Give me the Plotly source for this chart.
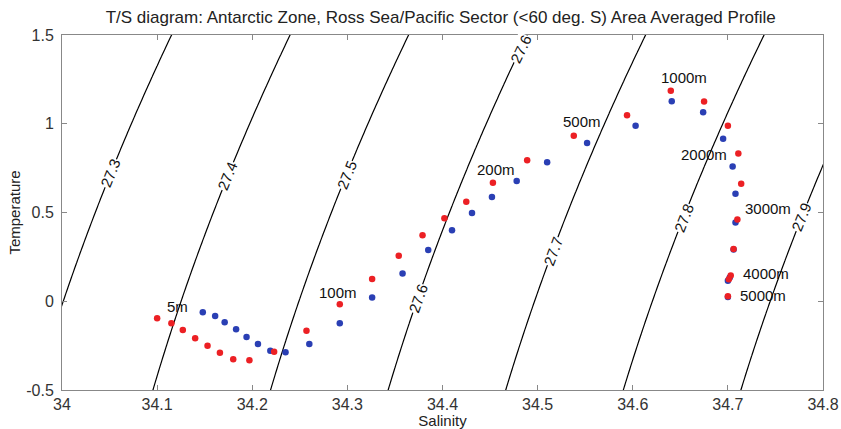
import math
import numpy as np
import plotly.graph_objects as go

# Profile 1 (red): salinity / potential temperature, surface to bottom
red_sal = [34.100, 34.115, 34.127, 34.140, 34.153, 34.166, 34.180, 34.197, 34.223, 34.257,
           34.292, 34.326, 34.354, 34.379, 34.402, 34.425, 34.453, 34.489, 34.538, 34.594,
           34.640, 34.675, 34.700, 34.711, 34.714, 34.710, 34.706, 34.703, 34.701, 34.700]
red_temp = [-0.096, -0.124, -0.162, -0.209, -0.250, -0.290, -0.327, -0.333, -0.284, -0.166,
            -0.017, 0.125, 0.257, 0.372, 0.467, 0.561, 0.668, 0.795, 0.932, 1.048,
            1.186, 1.126, 0.989, 0.832, 0.662, 0.461, 0.294, 0.145, 0.124, 0.028]

# Profile 2 (blue)
blue_sal = [34.148, 34.161, 34.171, 34.183, 34.194, 34.206, 34.219, 34.235, 34.260,
            34.292, 34.326, 34.358, 34.385, 34.410, 34.431, 34.452, 34.478, 34.510, 34.552,
            34.603, 34.641, 34.674, 34.695, 34.705, 34.708, 34.708, 34.706, 34.702, 34.700, 34.700]
blue_temp = [-0.062, -0.083, -0.119, -0.158, -0.201, -0.241, -0.279, -0.288, -0.241,
             -0.124, 0.021, 0.157, 0.289, 0.400, 0.497, 0.587, 0.677, 0.783, 0.892,
             0.989, 1.127, 1.065, 0.915, 0.759, 0.606, 0.444, 0.292, 0.134, 0.116, 0.024]

# Depth labels
depth_text = ["5m", "100m", "200m", "500m", "1000m", "2000m", "3000m", "4000m", "5000m"]
depth_sal = [34.121, 34.290, 34.456, 34.547, 34.654, 34.675, 34.742, 34.740, 34.737]
depth_temp = [-0.027, 0.052, 0.745, 1.015, 1.261, 0.824, 0.520, 0.154, 0.030]

# Isopycnal levels (sigma-0) and temperatures where their labels sit
sigma_levels = [27.3, 27.4, 27.5, 27.6, 27.6, 27.7, 27.8, 27.9]
sigma_label_temp = [0.723, 0.706, 0.711, 1.421, 0.018, 0.283, 0.469, 0.475]

S_RANGE = [34.0, 34.8]
T_RANGE = [-0.5, 1.5]
W, H = 841, 429
ML, MR, MT, MB = 62, 18, 35, 39
FONT = "Liberation Sans, Arial, sans-serif"


def sigma0(S, T):
    """UNESCO EOS-80 density anomaly at the sea surface."""
    rw = (999.842594 + 6.793952e-2 * T - 9.095290e-3 * T**2 + 1.001685e-4 * T**3
          - 1.120083e-6 * T**4 + 6.536332e-9 * T**5)
    A = 8.24493e-1 - 4.0899e-3 * T + 7.6438e-5 * T**2 - 8.2467e-7 * T**3 + 5.3875e-9 * T**4
    B = -5.72466e-3 + 1.0227e-4 * T - 1.6546e-6 * T**2
    C = 4.8314e-4
    return rw + A * S + B * S**1.5 + C * S**2 - 1000.0


def sal_on_isopycnal(level, T):
    lo, hi = 33.0, 36.0
    for _ in range(60):
        mid = 0.5 * (lo + hi)
        if sigma0(mid, T) < level:
            lo = mid
        else:
            hi = mid
    return 0.5 * (lo + hi)


sg = np.linspace(33.9, 34.9, 201)
tg = np.linspace(-0.7, 1.7, 121)
SS, TT = np.meshgrid(sg, tg)
dens = sigma0(SS, TT)

fig = go.Figure()
fig.add_trace(go.Contour(
    x=sg, y=tg, z=dens,
    contours=dict(start=27.3, end=27.9, size=0.1, coloring="lines", showlabels=False),
    colorscale=[[0, "black"], [1, "black"]],
    line=dict(width=1.2),
    showscale=False, hoverinfo="skip",
))
fig.add_trace(go.Scatter(x=blue_sal, y=blue_temp, mode="markers",
                         marker=dict(color="#2a3fb4", size=6.5), showlegend=False))
fig.add_trace(go.Scatter(x=red_sal, y=red_temp, mode="markers",
                         marker=dict(color="#ec2024", size=6.5), showlegend=False))

# pixel scale of the plot area
px_per_S = (W - ML - MR) / (S_RANGE[1] - S_RANGE[0])
px_per_T = (H - MT - MB) / (T_RANGE[1] - T_RANGE[0])

annotations = []
for lev, tl in zip(sigma_levels, sigma_label_temp):
    sl = sal_on_isopycnal(lev, tl)
    eps = 1e-3
    dS = (sigma0(sl + eps, tl) - sigma0(sl - eps, tl)) / (2 * eps)
    dT = (sigma0(sl, tl + eps) - sigma0(sl, tl - eps)) / (2 * eps)
    slope = -dT / dS  # dS/dT along the isopycnal
    ang = math.degrees(math.atan2(px_per_T, slope * px_per_S))
    annotations.append(dict(x=sl, y=tl, xref="x", yref="y", text=f"{lev:.1f}",
                            showarrow=False, textangle=-ang, bgcolor="white",
                            borderpad=0, font=dict(family=FONT, size=15, color="#111")))

for txt, s, t in zip(depth_text, depth_sal, depth_temp):
    annotations.append(dict(x=s, y=t, xref="x", yref="y", text=txt, showarrow=False,
                            font=dict(family=FONT, size=15, color="#111")))

fig.update_layout(
    width=W, height=H,
    margin=dict(l=ML, r=MR, t=MT, b=MB, autoexpand=False),
    paper_bgcolor="white", plot_bgcolor="white",
    title=dict(text="T/S diagram: Antarctic Zone, Ross Sea/Pacific Sector (<60 deg. S) Area Averaged Profile",
               x=0.524, xanchor="center", y=0.96, yanchor="middle",
               font=dict(family=FONT, size=17, color="#222")),
    annotations=annotations,
    font=dict(family=FONT, size=16, color="#333"),
)
fig.update_xaxes(range=S_RANGE, tickvals=[34.0, 34.1, 34.2, 34.3, 34.4, 34.5, 34.6, 34.7, 34.8],
                 ticktext=["34", "34.1", "34.2", "34.3", "34.4", "34.5", "34.6", "34.7", "34.8"],
                 ticks="inside", ticklen=5, tickcolor="#888", showline=True, linecolor="#888",
                 linewidth=1, mirror="ticks", showgrid=False, zeroline=False, automargin=False,
                 title=dict(text="Salinity", standoff=9, font=dict(size=15, color="#222")))
fig.update_yaxes(range=T_RANGE, tickvals=[-0.5, 0, 0.5, 1, 1.5],
                 ticktext=["-0.5", "0", "0.5", "1", "1.5"],
                 ticks="inside", ticklen=5, tickcolor="#888", showline=True, linecolor="#888",
                 linewidth=1, mirror="ticks", showgrid=False, zeroline=False, automargin=False,
                 ticklabelstandoff=4,
                 title=dict(text="Temperature", standoff=1, font=dict(size=15, color="#222")))

fig.write_html("out.html")
